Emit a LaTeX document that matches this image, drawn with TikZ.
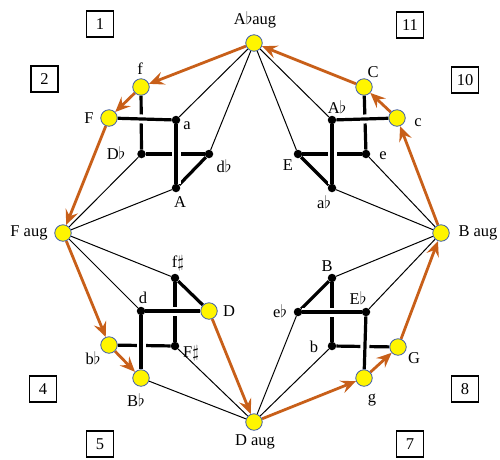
\documentclass[tikz,border=0pt]{standalone}
\usepackage{fontspec}
\setmainfont{Liberation Serif}
\usetikzlibrary{arrows.meta}
\definecolor{arr}{RGB}{200,95,25}
\definecolor{yel}{RGB}{255,245,0}
\definecolor{ring}{RGB}{60,90,170}
\pgfdeclarelayer{bg}
\pgfsetlayers{bg,main}
\tikzset{
  yn/.style={circle, fill=yel, draw=ring, line width=0.8pt, minimum size=16.5pt, inner sep=0pt},
  bn/.style={circle, fill=black, minimum size=8.5pt, inner sep=0pt},
  lab/.style={font=\fontsize{16.5}{16.5}\selectfont, inner sep=0pt},
  fine/.style={line width=1pt},
  heavy/.style={line width=3.2pt},
  front/.style={heavy, preaction={draw=white, line width=9pt}},
  orng/.style={draw=arr, line width=2.8pt, -{Stealth[length=15pt, width=13pt, inset=5.5pt]}},
  numbox/.style={draw, line width=1.2pt, minimum width=27pt, minimum height=26pt, inner sep=0pt, font=\fontsize{16.5}{16.5}\selectfont}
}
\begin{document}
\begin{tikzpicture}[x=1pt,y=-1pt]
\useasboundingbox (0,0) rectangle (500,459);
% aug nodes
\node[yn] (Aaug) at (254,43) {};
\node[yn] (Baug) at (441,233) {};
\node[yn] (Daug) at (254,422) {};
\node[yn] (Faug) at (63,233) {};
% top-left cube
\node[yn] (f) at (141,87) {};
\node[yn] (F) at (109,118) {};
\node[bn] (a) at (176,120) {};
\node[bn] (Db) at (141.5,154) {};
\node[bn] (db) at (209,154) {};
\node[bn] (A) at (176,188) {};
% top-right cube
\node[yn] (C) at (364,87) {};
\node[yn] (c) at (397,118) {};
\node[bn] (Ab) at (332,120) {};
\node[bn] (E) at (298,154) {};
\node[bn] (e) at (366,154) {};
\node[bn] (ab) at (332,188) {};
% bottom-left cube
\node[bn] (fs) at (175,278) {};
\node[bn] (d) at (141,311) {};
\node[yn] (D) at (209,311) {};
\node[bn] (Fs) at (175,346) {};
\node[yn] (bb) at (109,345) {};
\node[yn] (Bb) at (141,378) {};
% bottom-right cube
\node[bn] (B) at (332,278) {};
\node[bn] (eb) at (298,312) {};
\node[bn] (Eb) at (366,312) {};
\node[bn] (b) at (332,346) {};
\node[yn] (G) at (398,347) {};
\node[yn] (g) at (364,378) {};

\begin{pgfonlayer}{bg}
% thin connectors
\draw[fine] (Aaug) -- (a);
\draw[fine] (Aaug) -- (db);
\draw[fine] (Aaug) -- (Ab);
\draw[fine] (Aaug) -- (E);
\draw[fine] (Faug) -- (Db);
\draw[fine] (Faug) -- (A);
\draw[fine] (Faug) -- (fs);
\draw[fine] (Faug) -- (d);
\draw[fine] (Baug) -- (e);
\draw[fine] (Baug) -- (ab);
\draw[fine] (Baug) -- (B);
\draw[fine] (Baug) -- (Eb);
\draw[fine] (Daug) -- (Fs);
\draw[fine] (Daug) -- (Bb);
\draw[fine] (Daug) -- (eb);
\draw[fine] (Daug) -- (b);
% back heavy edges
\draw[heavy] (f) -- (Db);
\draw[heavy] (Db) -- (db);
\draw[heavy] (A) -- (db);
\draw[heavy] (C) -- (e);
\draw[heavy] (E) -- (e);
\draw[heavy] (E) -- (ab);
\draw[heavy] (fs) -- (Fs);
\draw[heavy] (bb) -- (Fs);
\draw[heavy] (fs) -- (D);
\draw[heavy] (B) -- (b);
\draw[heavy] (b) -- (G);
\draw[heavy] (B) -- (eb);
% front heavy edges
\draw[front] (F) -- (a);
\draw[front] (a) -- (A);
\draw[front] (Ab) -- (c);
\draw[front] (Ab) -- (ab);
\draw[front] (d) -- (D);
\draw[front] (d) -- (Bb);
\draw[front] (eb) -- (Eb);
\draw[front] (Eb) -- (g);
% orange arrows
\draw[orng] (Aaug) -- (f);
\draw[orng] (f) -- (F);
\draw[orng] (F) -- (Faug);
\draw[orng] (Faug) -- (bb);
\draw[orng] (bb) -- (Bb);
\draw[orng] (D) -- (Daug);
\draw[orng] (Daug) -- (g);
\draw[orng] (g) -- (G);
\draw[orng] (G) -- (Baug);
\draw[orng] (Baug) -- (c);
\draw[orng] (c) -- (C);
\draw[orng] (C) -- (Aaug);
\end{pgfonlayer}

% labels
\node[lab] (lAaug) at (255,20) {A$\flat$aug};
\node[lab] (lf) at (140,69) {f};
\node[lab] (lF) at (89,118) {F};
\node[lab] (la) at (187,126) {a};
\node[lab] (lDb) at (116,153) {D$\flat$};
\node[lab] (ldb) at (224,166) {d$\flat$};
\node[lab] (lA) at (180,202) {A};
\node[lab] (lFaug) at (29,233) {F aug};
\node[lab] (lfs) at (178,263) {f$\sharp$};
\node[lab] (ld) at (143,298) {d};
\node[lab] (lD) at (229,311) {D};
\node[lab] (lFs) at (191,353) {F$\sharp$};
\node[lab] (lbb) at (93,358) {b$\flat$};
\node[lab] (lBb) at (136,400) {B$\flat$};
\node[lab] (lDaug) at (255,442) {D aug};
\node[lab] (lBaug) at (478,233) {B aug};
\node[lab] (lB) at (327,266) {B};
\node[lab] (leb) at (280,311) {e$\flat$};
\node[lab] (lEb) at (358,298) {E$\flat$};
\node[lab] (lb) at (314,347) {b};
\node[lab] (lG) at (414,358) {G};
\node[lab] (lg) at (372,400) {g};
\node[lab] (lC) at (373,72) {C};
\node[lab] (lc) at (418,123) {c};
\node[lab] (lAb) at (337,107) {A$\flat$};
\node[lab] (le) at (383,156) {e};
\node[lab] (lE) at (288,165) {E};
\node[lab] (lab2) at (324,202) {a$\flat$};

% numbered boxes
\node[numbox] (n1) at (100,24) {1};
\node[numbox] (n11) at (410,25) {11};
\node[numbox] (n10) at (465,80) {10};
\node[numbox] (n2) at (44.5,79) {2};
\node[numbox] (n4) at (43,389) {4};
\node[numbox] (n5) at (100,444) {5};
\node[numbox] (n8) at (465,389) {8};
\node[numbox] (n7) at (410,444) {7};
\end{tikzpicture}
\end{document}
